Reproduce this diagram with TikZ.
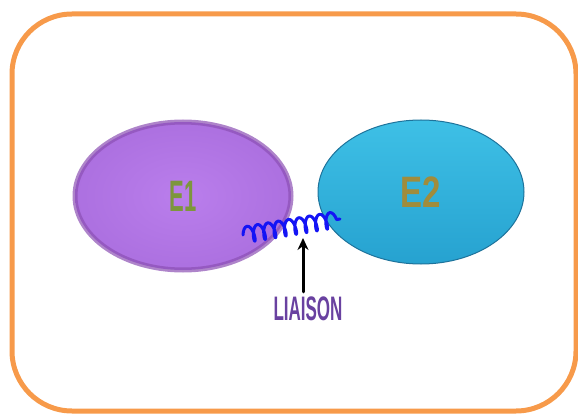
\documentclass[tikz,border=0pt]{standalone}
\usepackage{fontspec}
\setmainfont{Liberation Sans}
\usetikzlibrary{shapes.geometric,decorations.pathmorphing,arrows.meta}
\begin{document}
\begin{tikzpicture}[x=1pt, y=-1pt, line cap=round, line join=round]
  \definecolor{framecol}{RGB}{247,154,74}
  \definecolor{eonein}{RGB}{186,126,236}
  \definecolor{eoneout}{RGB}{172,112,224}
  \definecolor{eoneedge}{RGB}{140,80,180}
  \definecolor{etwotop}{RGB}{62,192,230}
  \definecolor{etwobot}{RGB}{38,162,208}
  \definecolor{etwoedge}{RGB}{30,115,155}
  \definecolor{oneText}{RGB}{125,150,60}
  \definecolor{twoText}{RGB}{160,140,60}
  \definecolor{linkText}{RGB}{105,65,160}
  \definecolor{coilblue}{RGB}{20,20,245}
  \tikzset{
    entity/.style={ellipse, inner sep=0pt, font=\bfseries\fontsize{44}{44}\selectfont},
    linklabel/.style={inner sep=0pt, text=linkText, font=\bfseries\fontsize{34}{34}\selectfont}
  }
  \useasboundingbox (0,0) rectangle (578,414);
  \draw[framecol, line width=5pt, rounded corners=60pt] (12,14) rectangle (576,411);
  \node[entity, minimum width=216pt, minimum height=148pt, inner color=eonein, outer color=eoneout,
        draw=eoneedge, draw opacity=0.7, line width=5pt, text=oneText] (E1) at (183,196)
        {\scalebox{0.5}[1]{E1}};
  \node[entity, minimum width=206pt, minimum height=144pt, top color=etwotop, bottom color=etwobot,
        draw=etwoedge, line width=1pt, text=twoText] (E2) at (421,192)
        {\scalebox{0.75}[1]{E2}};
  \coordinate (c1) at (243,235);
  \coordinate (c2) at (340,219);
  \draw[coilblue, line width=3pt, decorate,
        decoration={coil, aspect=0.35, segment length=10.5pt, amplitude=8pt}] (c1) -- (c2);
  \node[linklabel] (liaison) at (308,309) {\scalebox{0.5}[1]{LIAISON}};
  \coordinate (tip) at (303,238);
  \draw[-{Stealth[length=12pt,width=11pt]}, line width=3pt] (liaison.north -| tip) ++(0,-5) -- (tip);
\end{tikzpicture}
\end{document}
